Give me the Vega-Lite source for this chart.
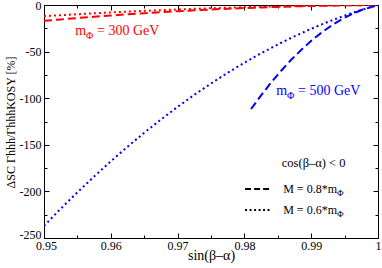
{
  "$schema": "https://vega.github.io/schema/vega-lite/v6.json",
  "width": 334,
  "height": 233,
  "autosize": "none",
  "padding": {"left": 44, "top": 5, "right": 4, "bottom": 30},
  "config": {
    "font": "Liberation Serif",
    "view": {"stroke": "black", "strokeWidth": 1},
    "axis": {
      "grid": false,
      "labelFont": "Liberation Serif",
      "labelFontSize": 12,
      "labelColor": "black",
      "tickColor": "black",
      "domainColor": "black",
      "titleFont": "Liberation Serif",
      "titleFontWeight": "normal",
      "titleColor": "black",
      "labelFlush": false,
      "labelOverlap": false
    },
    "text": {"font": "Liberation Serif"}
  },
  "datasets": {
    "one": [{}],
    "curves": [
      {"s": 0.95, "v": -12.0, "mass": "300 GeV", "M": "0.6"},
      {"s": 0.9525, "v": -10.93, "mass": "300 GeV", "M": "0.6"},
      {"s": 0.955, "v": -9.9, "mass": "300 GeV", "M": "0.6"},
      {"s": 0.9575, "v": -8.93, "mass": "300 GeV", "M": "0.6"},
      {"s": 0.96, "v": -8.0, "mass": "300 GeV", "M": "0.6"},
      {"s": 0.9625, "v": -7.13, "mass": "300 GeV", "M": "0.6"},
      {"s": 0.965, "v": -6.3, "mass": "300 GeV", "M": "0.6"},
      {"s": 0.9675, "v": -5.53, "mass": "300 GeV", "M": "0.6"},
      {"s": 0.97, "v": -4.8, "mass": "300 GeV", "M": "0.6"},
      {"s": 0.9725, "v": -4.13, "mass": "300 GeV", "M": "0.6"},
      {"s": 0.975, "v": -3.5, "mass": "300 GeV", "M": "0.6"},
      {"s": 0.9775, "v": -2.93, "mass": "300 GeV", "M": "0.6"},
      {"s": 0.98, "v": -2.4, "mass": "300 GeV", "M": "0.6"},
      {"s": 0.9825, "v": -1.93, "mass": "300 GeV", "M": "0.6"},
      {"s": 0.985, "v": -1.5, "mass": "300 GeV", "M": "0.6"},
      {"s": 0.9875, "v": -1.13, "mass": "300 GeV", "M": "0.6"},
      {"s": 0.99, "v": -0.8, "mass": "300 GeV", "M": "0.6"},
      {"s": 0.9925, "v": -0.53, "mass": "300 GeV", "M": "0.6"},
      {"s": 0.995, "v": -0.3, "mass": "300 GeV", "M": "0.6"},
      {"s": 0.9975, "v": -0.13, "mass": "300 GeV", "M": "0.6"},
      {"s": 1.0, "v": 0, "mass": "300 GeV", "M": "0.6"},
      {"s": 0.95, "v": -17.0, "mass": "300 GeV", "M": "0.8"},
      {"s": 0.9525, "v": -15.44, "mass": "300 GeV", "M": "0.8"},
      {"s": 0.955, "v": -13.97, "mass": "300 GeV", "M": "0.8"},
      {"s": 0.9575, "v": -12.57, "mass": "300 GeV", "M": "0.8"},
      {"s": 0.96, "v": -11.25, "mass": "300 GeV", "M": "0.8"},
      {"s": 0.9625, "v": -9.99, "mass": "300 GeV", "M": "0.8"},
      {"s": 0.965, "v": -8.82, "mass": "300 GeV", "M": "0.8"},
      {"s": 0.9675, "v": -7.71, "mass": "300 GeV", "M": "0.8"},
      {"s": 0.97, "v": -6.68, "mass": "300 GeV", "M": "0.8"},
      {"s": 0.9725, "v": -5.72, "mass": "300 GeV", "M": "0.8"},
      {"s": 0.975, "v": -4.83, "mass": "300 GeV", "M": "0.8"},
      {"s": 0.9775, "v": -4.02, "mass": "300 GeV", "M": "0.8"},
      {"s": 0.98, "v": -3.28, "mass": "300 GeV", "M": "0.8"},
      {"s": 0.9825, "v": -2.61, "mass": "300 GeV", "M": "0.8"},
      {"s": 0.985, "v": -2.02, "mass": "300 GeV", "M": "0.8"},
      {"s": 0.9875, "v": -1.5, "mass": "300 GeV", "M": "0.8"},
      {"s": 0.99, "v": -1.06, "mass": "300 GeV", "M": "0.8"},
      {"s": 0.9925, "v": -0.68, "mass": "300 GeV", "M": "0.8"},
      {"s": 0.995, "v": -0.38, "mass": "300 GeV", "M": "0.8"},
      {"s": 0.9975, "v": -0.15, "mass": "300 GeV", "M": "0.8"},
      {"s": 1.0, "v": 0, "mass": "300 GeV", "M": "0.8"},
      {"s": 0.95, "v": -237.0, "mass": "500 GeV", "M": "0.6"},
      {"s": 0.9525, "v": -218.6, "mass": "500 GeV", "M": "0.6"},
      {"s": 0.955, "v": -201.0, "mass": "500 GeV", "M": "0.6"},
      {"s": 0.9575, "v": -184.0, "mass": "500 GeV", "M": "0.6"},
      {"s": 0.96, "v": -167.7, "mass": "500 GeV", "M": "0.6"},
      {"s": 0.9625, "v": -152.1, "mass": "500 GeV", "M": "0.6"},
      {"s": 0.965, "v": -137.1, "mass": "500 GeV", "M": "0.6"},
      {"s": 0.9675, "v": -122.9, "mass": "500 GeV", "M": "0.6"},
      {"s": 0.97, "v": -109.3, "mass": "500 GeV", "M": "0.6"},
      {"s": 0.9725, "v": -96.4, "mass": "500 GeV", "M": "0.6"},
      {"s": 0.975, "v": -84.25, "mass": "500 GeV", "M": "0.6"},
      {"s": 0.9775, "v": -72.7, "mass": "500 GeV", "M": "0.6"},
      {"s": 0.98, "v": -61.9, "mass": "500 GeV", "M": "0.6"},
      {"s": 0.9825, "v": -51.8, "mass": "500 GeV", "M": "0.6"},
      {"s": 0.985, "v": -42.3, "mass": "500 GeV", "M": "0.6"},
      {"s": 0.9875, "v": -33.6, "mass": "500 GeV", "M": "0.6"},
      {"s": 0.99, "v": -25.5, "mass": "500 GeV", "M": "0.6"},
      {"s": 0.9925, "v": -18.1, "mass": "500 GeV", "M": "0.6"},
      {"s": 0.995, "v": -11.4, "mass": "500 GeV", "M": "0.6"},
      {"s": 0.9975, "v": -5.3, "mass": "500 GeV", "M": "0.6"},
      {"s": 1.0, "v": 0, "mass": "500 GeV", "M": "0.6"},
      {"s": 0.981, "v": -111.6, "mass": "500 GeV", "M": "0.8"},
      {"s": 0.9825, "v": -96.9, "mass": "500 GeV", "M": "0.8"},
      {"s": 0.984, "v": -83.2, "mass": "500 GeV", "M": "0.8"},
      {"s": 0.9855, "v": -70.5, "mass": "500 GeV", "M": "0.8"},
      {"s": 0.987, "v": -58.8, "mass": "500 GeV", "M": "0.8"},
      {"s": 0.9885, "v": -48.2, "mass": "500 GeV", "M": "0.8"},
      {"s": 0.99, "v": -38.5, "mass": "500 GeV", "M": "0.8"},
      {"s": 0.9915, "v": -29.9, "mass": "500 GeV", "M": "0.8"},
      {"s": 0.993, "v": -22.2, "mass": "500 GeV", "M": "0.8"},
      {"s": 0.9945, "v": -15.6, "mass": "500 GeV", "M": "0.8"},
      {"s": 0.996, "v": -10.0, "mass": "500 GeV", "M": "0.8"},
      {"s": 0.9975, "v": -5.4, "mass": "500 GeV", "M": "0.8"},
      {"s": 1.0, "v": 0, "mass": "500 GeV", "M": "0.8"}
    ]
  },
  "layer": [
    {
      "data": {"name": "curves"},
      "mark": {"type": "line", "strokeWidth": 2, "strokeCap": "butt", "clip": true},
      "encoding": {
        "x": {
          "field": "s", "type": "quantitative",
          "scale": {"domain": [0.95, 1], "nice": false, "zero": false},
          "axis": {
            "orient": "bottom",
            "values": [0.95, 0.955, 0.96, 0.965, 0.97, 0.975, 0.98, 0.985, 0.99, 0.995, 1.0],
            "labelExpr": "abs(datum.value*100 - round(datum.value*100)) < 0.001 ? format(datum.value, '.2~f') : ''",
            "tickSize": {"condition": {"test": "abs(datum.value*100 - round(datum.value*100)) < 0.001", "value": -5}, "value": -3},
            "labelPadding": 7,
            "labelOffset": {"condition": {"test": "datum.value === 0.95", "value": 2}, "value": 0},
            "title": "sin(β–α)",
            "titleFontSize": 14,
            "titleY": 21,
            "titleBaseline": "alphabetic"
          }
        },
        "y": {
          "field": "v", "type": "quantitative",
          "scale": {"domain": [-250, 0], "nice": false, "zero": false},
          "axis": {
            "orient": "left",
            "values": [-250, -225, -200, -175, -150, -125, -100, -75, -50, -25, 0],
            "labelExpr": "datum.value % 50 === 0 ? '' + datum.value : ''",
            "tickSize": {"condition": {"test": "datum.value % 50 === 0", "value": -5}, "value": -3},
            "labelOffset": {"condition": {"test": "datum.value === -250", "value": -4}, "value": 0},
            "labelPadding": 8,
            "title": "ΔSC Γhhh/ΓhhhKOSY [%]",
            "titleFontSize": 12,
            "titleAngle": 270,
            "titleX": -30,
            "titleY": 117,
            "titleAlign": "center",
            "titleBaseline": "alphabetic"
          }
        },
        "color": {"field": "mass", "type": "nominal", "scale": {"domain": ["300 GeV", "500 GeV"], "range": ["#ff0000", "#0000ff"]}, "legend": null},
        "strokeDash": {"field": "M", "type": "nominal", "scale": {"domain": ["0.8", "0.6"], "range": [[8, 4], [2, 3]]}, "legend": null}
      }
    },
    {
      "data": {"name": "one"},
      "mark": {"type": "text", "align": "left", "baseline": "alphabetic", "fontSize": 12.5, "color": "black", "text": "cos(β–α) < 0"},
      "encoding": {
        "x": {"datum": 0.9856, "type": "quantitative", "axis": {
          "orient": "top",
          "values": [0.95, 0.955, 0.96, 0.965, 0.97, 0.975, 0.98, 0.985, 0.99, 0.995, 1.0],
          "labels": false, "title": null,
          "tickSize": {"condition": {"test": "abs(datum.value*100 - round(datum.value*100)) < 0.001", "value": -5}, "value": -3}
        }},
        "y": {"datum": -173.5, "type": "quantitative", "axis": {
          "orient": "right",
          "values": [-250, -225, -200, -175, -150, -125, -100, -75, -50, -25, 0],
          "labels": false, "title": null,
          "tickSize": {"condition": {"test": "datum.value % 50 === 0", "value": -5}, "value": -3}
        }}
      }
    },
    {
      "data": {"name": "one"},
      "mark": {"type": "rule", "color": "black", "strokeWidth": 2, "strokeDash": [6, 3]},
      "encoding": {
        "x": {"datum": 0.9801, "type": "quantitative", "axis": null},
        "x2": {"datum": 0.9841},
        "y": {"datum": -197.4, "type": "quantitative", "axis": null}
      }
    },
    {
      "data": {"name": "one"},
      "mark": {"type": "rule", "color": "black", "strokeWidth": 2, "strokeDash": [2, 2.5]},
      "encoding": {
        "x": {"datum": 0.9801, "type": "quantitative", "axis": null},
        "x2": {"datum": 0.9841},
        "y": {"datum": -220, "type": "quantitative", "axis": null}
      }
    },
    {
      "data": {"name": "one"},
      "mark": {"type": "text", "align": "right", "baseline": "alphabetic", "fontSize": 12, "color": "black", "text": "M = 0.8*m"},
      "encoding": {
        "x": {"datum": 0.99386, "type": "quantitative", "axis": null},
        "y": {"datum": -201.7, "type": "quantitative", "axis": null}
      }
    },
    {
      "data": {"name": "one"},
      "mark": {"type": "text", "align": "left", "baseline": "alphabetic", "fontSize": 9, "dy": 3, "color": "black", "text": "Φ"},
      "encoding": {
        "x": {"datum": 0.99386, "type": "quantitative", "axis": null},
        "y": {"datum": -201.7, "type": "quantitative", "axis": null}
      }
    },
    {
      "data": {"name": "one"},
      "mark": {"type": "text", "align": "right", "baseline": "alphabetic", "fontSize": 12, "color": "black", "text": "M = 0.6*m"},
      "encoding": {
        "x": {"datum": 0.99386, "type": "quantitative", "axis": null},
        "y": {"datum": -224.5, "type": "quantitative", "axis": null}
      }
    },
    {
      "data": {"name": "one"},
      "mark": {"type": "text", "align": "left", "baseline": "alphabetic", "fontSize": 9, "dy": 3, "color": "black", "text": "Φ"},
      "encoding": {
        "x": {"datum": 0.99386, "type": "quantitative", "axis": null},
        "y": {"datum": -224.5, "type": "quantitative", "axis": null}
      }
    },
    {
      "data": {"name": "one"},
      "mark": {"type": "text", "align": "right", "baseline": "alphabetic", "fontSize": 14, "color": "#ff0000", "text": "m"},
      "encoding": {
        "x": {"datum": 0.95629, "type": "quantitative", "axis": null},
        "y": {"datum": -32.2, "type": "quantitative", "axis": null}
      }
    },
    {
      "data": {"name": "one"},
      "mark": {"type": "text", "align": "left", "baseline": "alphabetic", "fontSize": 10, "dy": 4, "color": "#ff0000", "text": "Φ"},
      "encoding": {
        "x": {"datum": 0.95629, "type": "quantitative", "axis": null},
        "y": {"datum": -32.2, "type": "quantitative", "axis": null}
      }
    },
    {
      "data": {"name": "one"},
      "mark": {"type": "text", "align": "left", "baseline": "alphabetic", "fontSize": 14, "dx": 11, "color": "#ff0000", "text": "= 300 GeV"},
      "encoding": {
        "x": {"datum": 0.95629, "type": "quantitative", "axis": null},
        "y": {"datum": -32.2, "type": "quantitative", "axis": null}
      }
    },
    {
      "data": {"name": "one"},
      "mark": {"type": "text", "align": "right", "baseline": "alphabetic", "fontSize": 14, "color": "#0000ff", "text": "m"},
      "encoding": {
        "x": {"datum": 0.98638, "type": "quantitative", "axis": null},
        "y": {"datum": -96.6, "type": "quantitative", "axis": null}
      }
    },
    {
      "data": {"name": "one"},
      "mark": {"type": "text", "align": "left", "baseline": "alphabetic", "fontSize": 10, "dy": 4, "color": "#0000ff", "text": "Φ"},
      "encoding": {
        "x": {"datum": 0.98638, "type": "quantitative", "axis": null},
        "y": {"datum": -96.6, "type": "quantitative", "axis": null}
      }
    },
    {
      "data": {"name": "one"},
      "mark": {"type": "text", "align": "left", "baseline": "alphabetic", "fontSize": 14, "dx": 11, "color": "#0000ff", "text": "= 500 GeV"},
      "encoding": {
        "x": {"datum": 0.98638, "type": "quantitative", "axis": null},
        "y": {"datum": -96.6, "type": "quantitative", "axis": null}
      }
    }
  ]
}
